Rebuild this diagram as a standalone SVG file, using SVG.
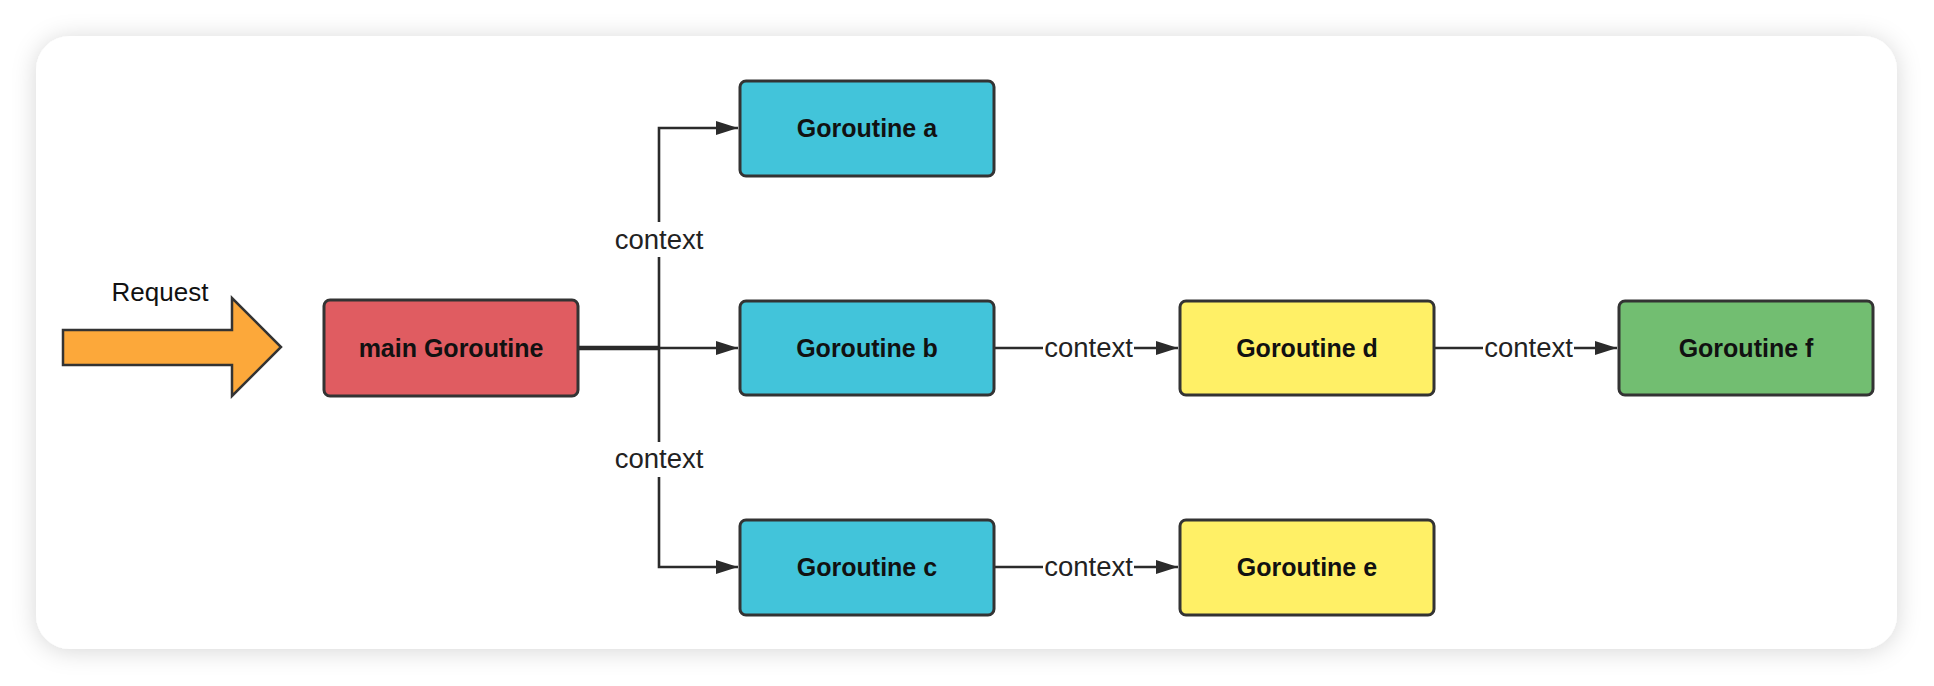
<svg xmlns="http://www.w3.org/2000/svg" width="1934" height="686" viewBox="0 0 1934 686">
  <defs>
    <filter id="shadow" x="-5%" y="-10%" width="110%" height="120%">
      <feDropShadow dx="0" dy="2" stdDeviation="12" flood-color="#000" flood-opacity="0.16"/>
    </filter>
    <marker id="arrow" markerUnits="userSpaceOnUse" markerWidth="22" markerHeight="14" refX="22" refY="7" orient="auto">
      <path d="M0,0 L22,7 L0,14 z" fill="#2b2b2b"/>
    </marker>
    <style>
      .node rect { stroke: #333; stroke-width: 3; }
      .label { font-family: "Liberation Sans", Arial, sans-serif; font-size: 25px; font-weight: bold; fill: #111; text-anchor: middle; }
      .edge { fill: none; stroke: #2b2b2b; stroke-width: 2.6; }
      .ctx { font-family: "Liberation Sans", Arial, sans-serif; font-size: 27.5px; fill: #222; text-anchor: middle; }
      .cyan { fill: #42C4DA; }
      .yellow { fill: #FFF066; }
    </style>
  </defs>
  <rect width="1934" height="686" fill="#ffffff"/>
  <rect x="36" y="36" width="1861" height="613" rx="34" ry="34" fill="#ffffff" filter="url(#shadow)"/>

  <g id="request">
    <polygon points="63,330 232,330 232,298 281,347 232,396 232,365 63,365" fill="#FCA83A" stroke="#333" stroke-width="2.5" stroke-linejoin="miter"/>
    <text x="160" y="301" font-family="Liberation Sans, Arial, sans-serif" font-size="26" fill="#111" text-anchor="middle">Request</text>
  </g>

  <g id="connectors">
    <path class="edge" d="M578,347 H659 V128 H738" marker-end="url(#arrow)"/>
    <path class="edge" d="M578,349 H659 V567 H738" marker-end="url(#arrow)"/>
    <path class="edge" d="M578,348 H738" marker-end="url(#arrow)"/>
    <path class="edge" d="M994,348 H1178" marker-end="url(#arrow)"/>
    <path class="edge" d="M1434,348 H1617" marker-end="url(#arrow)"/>
    <path class="edge" d="M994,567 H1178" marker-end="url(#arrow)"/>
    <rect x="614" y="222" width="90" height="35" fill="#fff"/>
    <text class="ctx" x="659" y="249">context</text>
    <rect x="614" y="442" width="90" height="35" fill="#fff"/>
    <text class="ctx" x="659" y="468">context</text>
    <rect x="1043" y="332" width="91" height="32" fill="#fff"/>
    <text class="ctx" x="1088.5" y="357">context</text>
    <rect x="1483" y="332" width="91" height="32" fill="#fff"/>
    <text class="ctx" x="1528.5" y="357">context</text>
    <rect x="1043" y="551" width="91" height="32" fill="#fff"/>
    <text class="ctx" x="1088.5" y="576">context</text>
  </g>

  <g id="main" class="node">
    <rect x="324" y="300" width="254" height="96" rx="6" fill="#E05C61"/>
    <text class="label" x="451" y="357">main Goroutine</text>
  </g>
  <g id="goroutine-a" class="node">
    <rect class="cyan" x="740" y="81" width="254" height="95" rx="6"/>
    <text class="label" x="867" y="137">Goroutine a</text>
  </g>
  <g id="goroutine-b" class="node">
    <rect class="cyan" x="740" y="301" width="254" height="94" rx="6"/>
    <text class="label" x="867" y="357">Goroutine b</text>
  </g>
  <g id="goroutine-c" class="node">
    <rect class="cyan" x="740" y="520" width="254" height="95" rx="6"/>
    <text class="label" x="867" y="576">Goroutine c</text>
  </g>
  <g id="goroutine-d" class="node">
    <rect class="yellow" x="1180" y="301" width="254" height="94" rx="6"/>
    <text class="label" x="1307" y="357">Goroutine d</text>
  </g>
  <g id="goroutine-e" class="node">
    <rect class="yellow" x="1180" y="520" width="254" height="95" rx="6"/>
    <text class="label" x="1307" y="576">Goroutine e</text>
  </g>
  <g id="goroutine-f" class="node">
    <rect x="1619" y="301" width="254" height="94" rx="6" fill="#72BE71"/>
    <text class="label" x="1746" y="357">Goroutine f</text>
  </g>
</svg>
